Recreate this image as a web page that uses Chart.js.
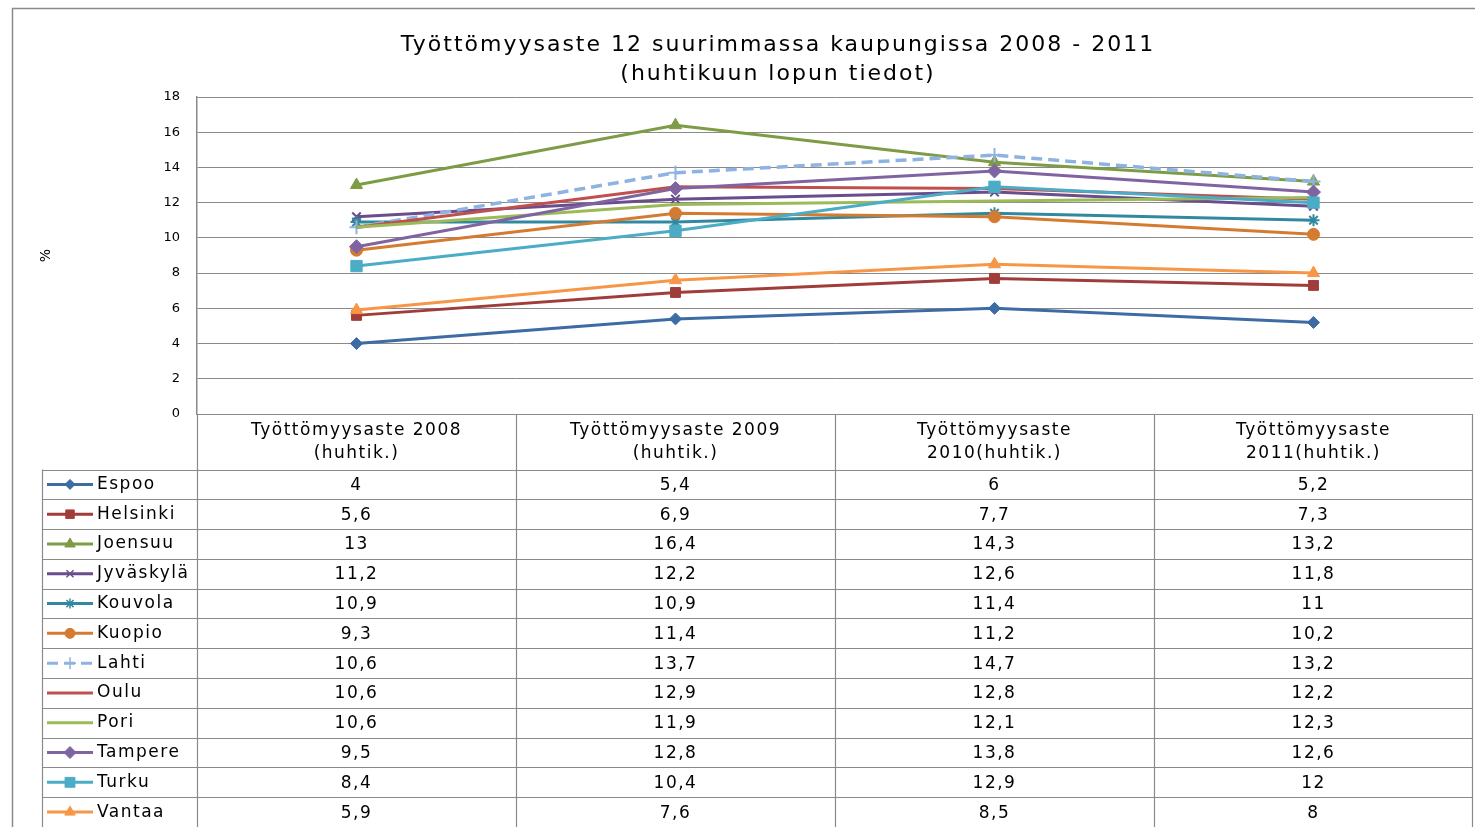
<!DOCTYPE html>
<html>
<head>
<meta charset="utf-8">
<script src="https://cdn.jsdelivr.net/npm/chart.js@4"></script>
<style>
  html, body { margin: 0; padding: 0; background: #fff; }
  #wrap { position: relative; width: 1475px; height: 827px; }
</style>
</head>
<body>
<div id="wrap"><canvas id="chart" width="1475" height="827"></canvas></div>
<script>
// Työttömyysaste 12 suurimmassa kaupungissa 2008 - 2011 (huhtikuun lopun tiedot)

const categories = [
  ['Työttömyysaste 2008', '(huhtik.)'],
  ['Työttömyysaste 2009', '(huhtik.)'],
  ['Työttömyysaste', '2010(huhtik.)'],
  ['Työttömyysaste', '2011(huhtik.)']
];
const yTicks = [0, 2, 4, 6, 8, 10, 12, 14, 16, 18];

const cities = ['Espoo', 'Helsinki', 'Joensuu', 'Jyväskylä', 'Kouvola', 'Kuopio',
  'Lahti', 'Oulu', 'Pori', 'Tampere', 'Turku', 'Vantaa'];

const espoo     = [4, 5.4, 6, 5.2];
const helsinki  = [5.6, 6.9, 7.7, 7.3];
const joensuu   = [13, 16.4, 14.3, 13.2];
const jyvaskyla = [11.2, 12.2, 12.6, 11.8];
const kouvola   = [10.9, 10.9, 11.4, 11];
const kuopio    = [9.3, 11.4, 11.2, 10.2];
const lahti     = [10.6, 13.7, 14.7, 13.2];
const oulu      = [10.6, 12.9, 12.8, 12.2];
const pori      = [10.6, 11.9, 12.1, 12.3];
const tampere   = [9.5, 12.8, 13.8, 12.6];
const turku     = [8.4, 10.4, 12.9, 12];
const vantaa    = [5.9, 7.6, 8.5, 8];

const seriesValues = [espoo, helsinki, joensuu, jyvaskyla, kouvola, kuopio,
  lahti, oulu, pori, tampere, turku, vantaa];

// line colour, marker, marker radius
const styles = [
  { color: '#3D6BA3', point: 'rectRot', r: 6 },
  { color: '#A03D3A', point: 'rect', r: 7 },
  { color: '#7E9C45', point: 'triangle', r: 7 },
  { color: '#6A4D8C', point: 'crossRot', r: 6 },
  { color: '#32899F', point: 'star', r: 6 },
  { color: '#D57A31', point: 'circle', r: 6 },
  { color: '#8DB3E2', point: 'cross', r: 7, dash: [11, 6] },
  { color: '#C0504D', point: false, r: 0 },
  { color: '#9BBB59', point: false, r: 0 },
  { color: '#8064A2', point: 'rectRot', r: 7 },
  { color: '#4BACC6', point: 'rect', r: 8 },
  { color: '#F79646', point: 'triangle', r: 7 }
];

const FONT = '"DejaVu Sans", Verdana, sans-serif';
const GRID = '#8A8A8A';

function fmt(v) {
  return String(v).replace('.', ',');
}

function isThin(p) {
  return p === 'crossRot' || p === 'star' || p === 'cross';
}

const datasets = seriesValues.map((vals, i) => {
  const s = styles[i];
  return {
    label: cities[i],
    data: vals,
    borderColor: s.color,
    backgroundColor: s.color,
    borderWidth: s.dash ? 3.5 : 3,
    borderDash: s.dash || [],
    pointStyle: s.point,
    pointRadius: s.r,
    pointBorderWidth: isThin(s.point) ? 2 : 1,
    pointBorderColor: s.color,
    pointBackgroundColor: s.color,
    tension: 0,
    order: seriesValues.length - i
  };
});

// frame, title and the data table under the plot
const tablePlugin = {
  id: 'tablePlugin',
  beforeDraw(chart) {
    const ctx = chart.ctx;
    ctx.save();
    ctx.fillStyle = '#fff';
    ctx.fillRect(0, 0, chart.width, chart.height);
    ctx.strokeStyle = GRID;
    ctx.lineWidth = 1.5;
    ctx.beginPath();
    ctx.moveTo(12.5, 827);
    ctx.lineTo(12.5, 8.5);
    ctx.lineTo(1475, 8.5);
    ctx.stroke();
    ctx.restore();
  },
  afterDraw(chart) {
    const ctx = chart.ctx;
    const xs = chart.scales.x;
    const area = chart.chartArea;
    const half = (xs.getPixelForValue(1) - xs.getPixelForValue(0)) / 2;
    const headTop = area.bottom;
    const headBottom = 469.5;
    const rowH = (827 - headBottom) / cities.length;
    const keyLeft = 42.5;

    ctx.save();
    // title
    ctx.fillStyle = '#000';
    ctx.font = '22px ' + FONT;
    ctx.letterSpacing = '2px';
    ctx.textAlign = 'center';
    ctx.textBaseline = 'middle';
    ctx.fillText('Työttömyysaste 12 suurimmassa kaupungissa 2008 - 2011', 778, 45);
    ctx.fillText('(huhtikuun lopun tiedot)', 778, 74);

    // grid of the table
    ctx.strokeStyle = GRID;
    ctx.lineWidth = 1.2;
    ctx.beginPath();
    categories.forEach((c, i) => {
      const x = Math.round(xs.getPixelForValue(i) - half) + 0.5;
      ctx.moveTo(x, headTop);
      ctx.lineTo(x, 827);
    });
    ctx.moveTo(Math.round(area.right) - 0.5, headTop);
    ctx.lineTo(Math.round(area.right) - 0.5, 827);
    ctx.moveTo(keyLeft, headBottom);
    ctx.lineTo(keyLeft, 827);
    for (let r = 0; r <= cities.length; r++) {
      const y = Math.round(headBottom + r * rowH) + 0.5;
      ctx.moveTo(keyLeft, y);
      ctx.lineTo(area.right, y);
    }
    ctx.stroke();

    // header labels
    ctx.fillStyle = '#000';
    ctx.font = '17px ' + FONT;
    ctx.letterSpacing = '1.5px';
    categories.forEach((lines, i) => {
      const x = xs.getPixelForValue(i);
      ctx.fillText(lines[0], x, 431);
      ctx.fillText(lines[1], x, 454);
    });

    // rows: legend key, name, values
    cities.forEach((name, r) => {
      const cy = headBottom + r * rowH + rowH / 2;
      const s = styles[r];
      ctx.save();
      ctx.strokeStyle = s.color;
      ctx.lineWidth = 3;
      ctx.setLineDash(s.dash || []);
      ctx.beginPath();
      ctx.moveTo(47, cy);
      ctx.lineTo(93, cy);
      ctx.stroke();
      ctx.restore();
      if (s.point && Chart.helpers && Chart.helpers.drawPoint) {
        ctx.save();
        ctx.fillStyle = s.color;
        ctx.strokeStyle = s.color;
        ctx.lineWidth = isThin(s.point) ? 1.5 : 1;
        Chart.helpers.drawPoint(ctx, { pointStyle: s.point, radius: s.r - 1, rotation: 0, borderWidth: 1 }, 70, cy);
        ctx.restore();
      }
      ctx.fillStyle = '#000';
      ctx.textAlign = 'left';
      ctx.fillText(name, 97, cy);
      ctx.textAlign = 'center';
      seriesValues[r].forEach((v, i) => {
        ctx.fillText(fmt(v), xs.getPixelForValue(i), cy + 1);
      });
    });
    ctx.restore();
  }
};

new Chart(document.getElementById('chart'), {
  type: 'line',
  data: { labels: categories.map(c => c.join(' ')), datasets },
  plugins: [tablePlugin],
  options: {
    responsive: false,
    animation: false,
    layout: { autoPadding: false, padding: { top: 97, bottom: 413, left: 0, right: 2 } },
    plugins: {
      legend: { display: false },
      tooltip: { enabled: false },
      title: { display: false }
    },
    scales: {
      x: {
        type: 'category',
        offset: true,
        display: false
      },
      y: {
        min: 0,
        max: 18,
        afterFit(scale) { scale.width = 197; },
        afterBuildTicks(scale) { scale.ticks = yTicks.map(v => ({ value: v })); },
        border: { display: true, color: GRID, width: 1.5 },
        grid: { color: GRID, lineWidth: 1, drawTicks: false },
        ticks: {
          color: '#000',
          font: { family: FONT, size: 13 },
          padding: 17
        },
        title: {
          display: true,
          text: '%',
          color: '#000',
          font: { family: FONT, size: 14 },
          padding: { top: 38, bottom: 0 }
        }
      }
    }
  }
});
</script>
</body>
</html>
